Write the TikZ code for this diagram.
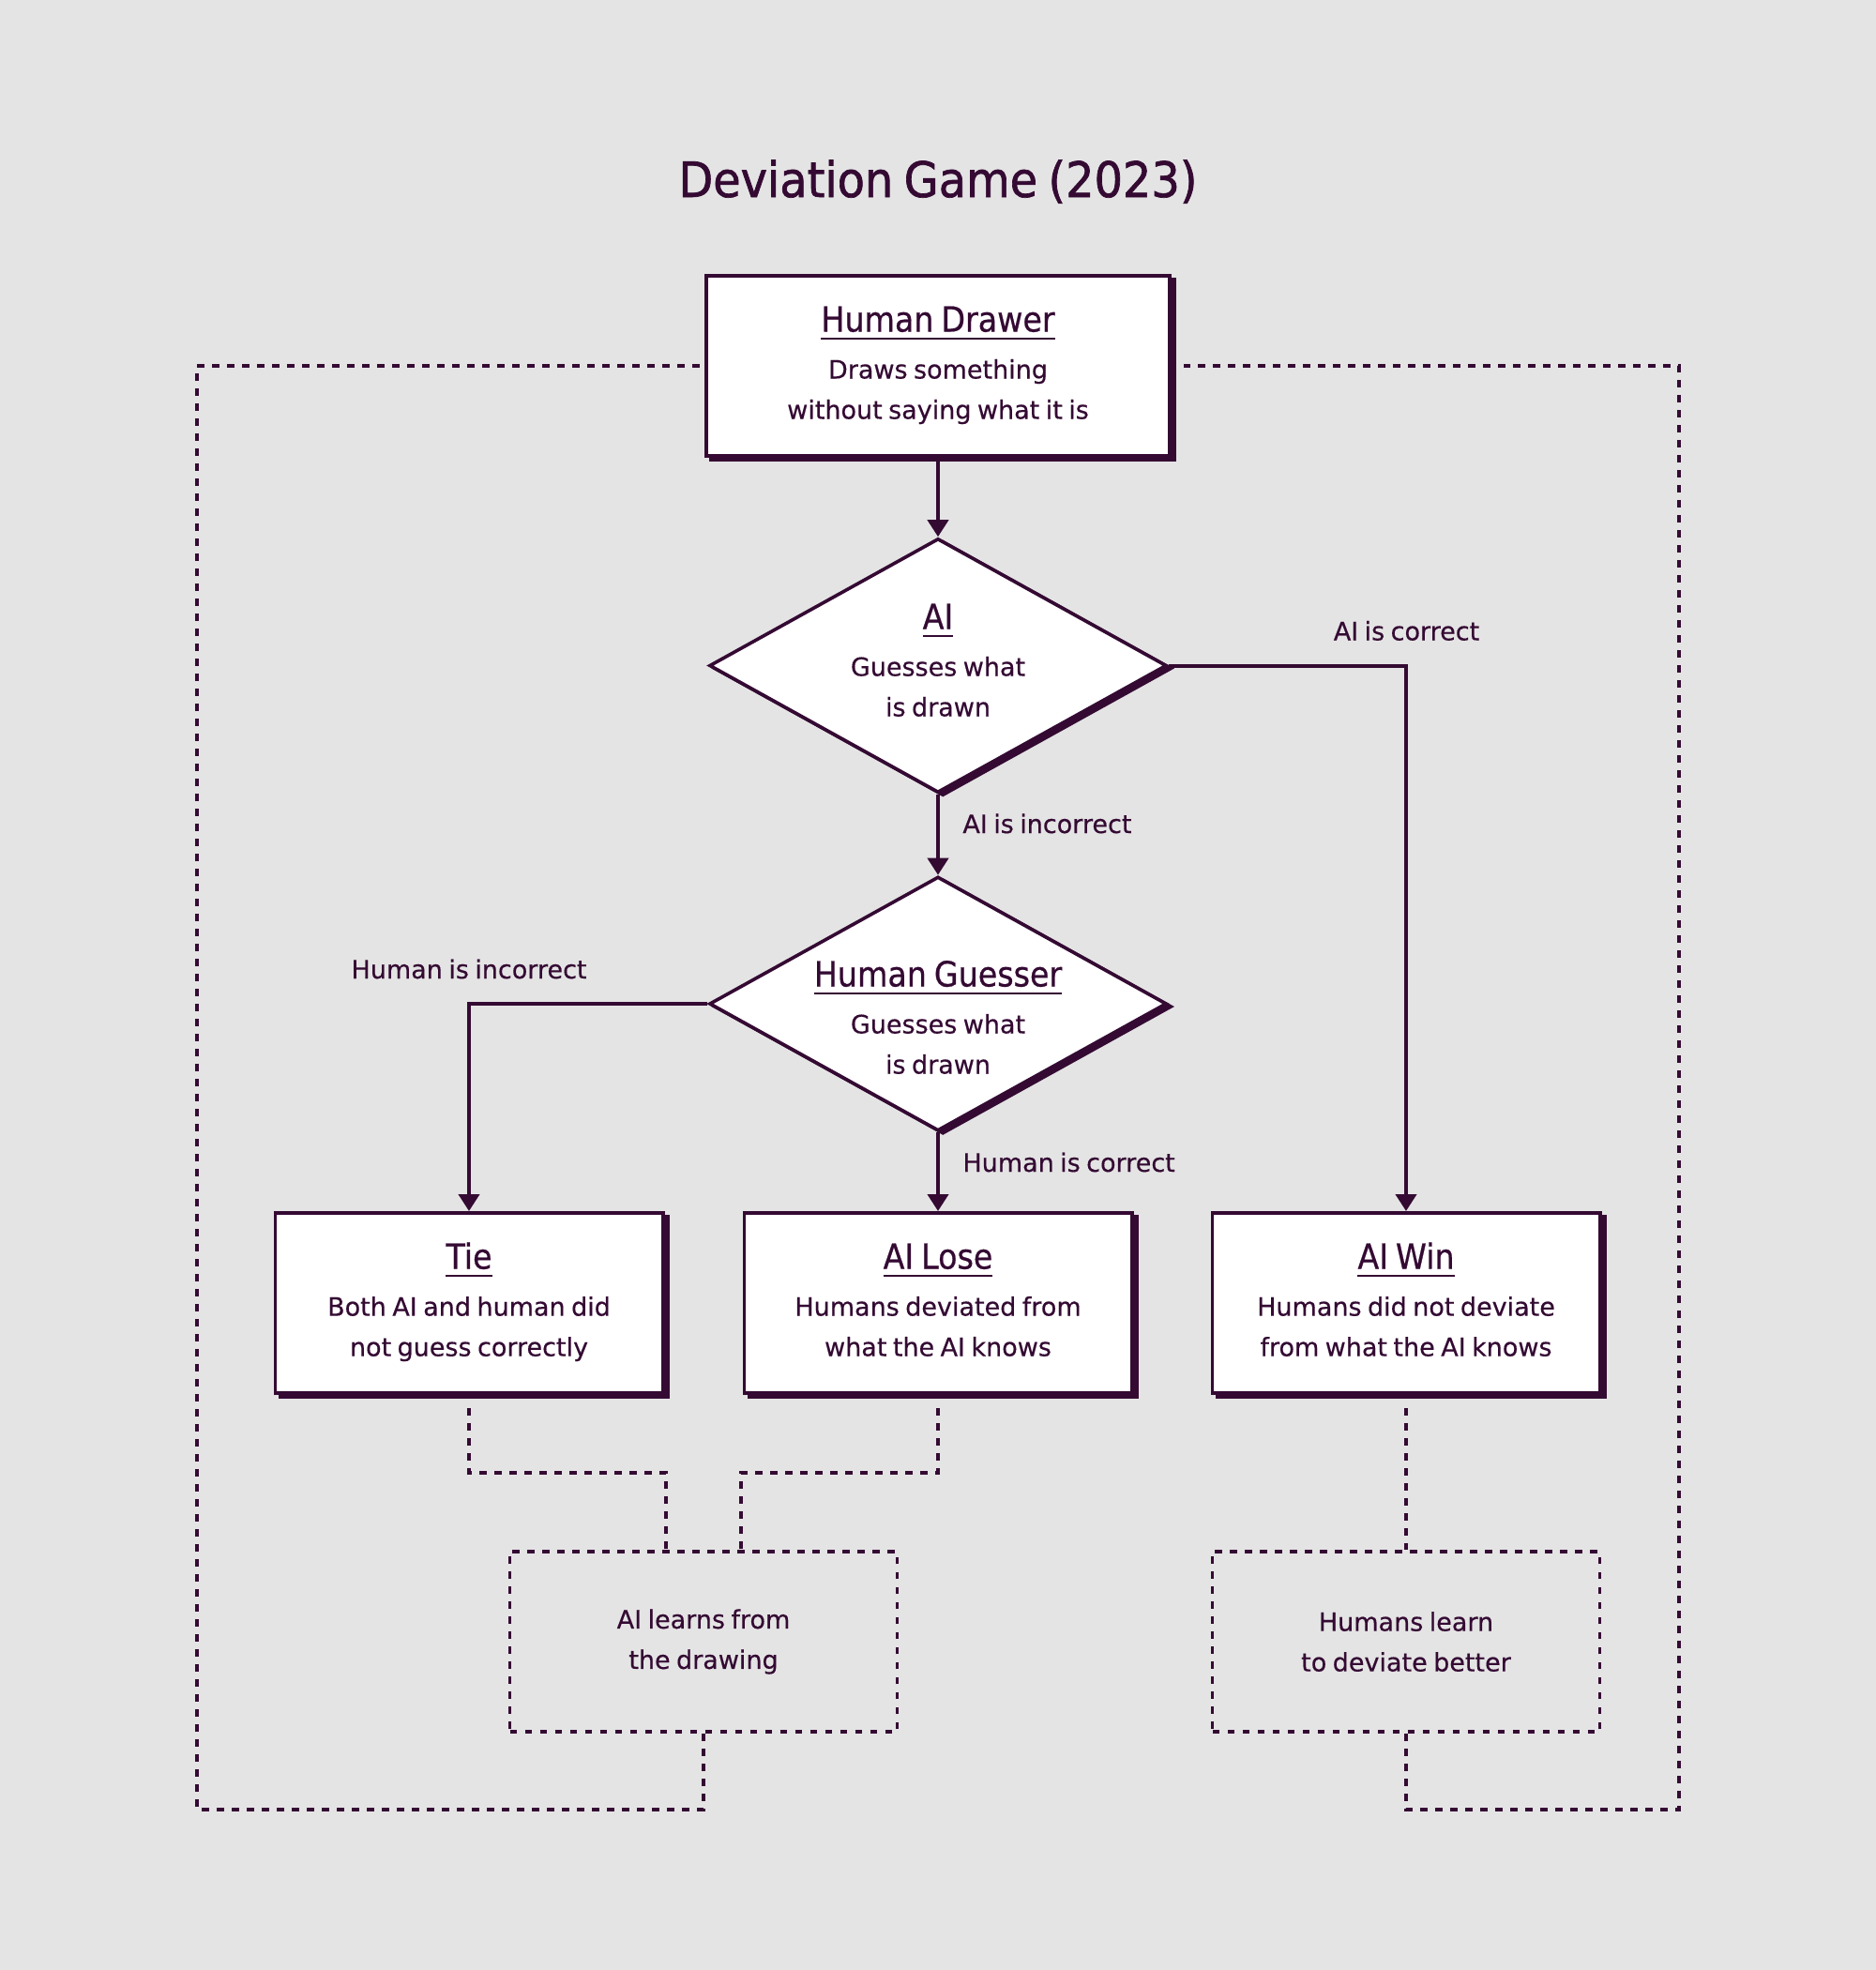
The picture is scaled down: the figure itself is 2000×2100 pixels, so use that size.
\documentclass[tikz,border=0pt]{standalone}
\usepackage{fontspec}
\setmainfont{DejaVu Sans}[WordSpace=0.75, FakeBold=0.4]
\newfontfamily\headfont{DejaVu Sans}[FakeStretch=0.9, WordSpace=0.75, FakeBold=0.6]
\newfontfamily\titlefont{DejaVu Sans}[FakeStretch=0.92, WordSpace=0.75, FakeBold=1.3]
\usetikzlibrary{shapes.geometric, arrows.meta, shadows}
\definecolor{ink}{HTML}{340A33}
\definecolor{bg}{HTML}{E4E4E4}
\newcommand\hdul[1]{\setbox0\hbox{#1}\rlap{\rule[-4.3pt]{\wd0}{1.2pt}}\box0\rule{0pt}{14pt}}
\newcommand\hd[1]{{\headfont\fontsize{18.5}{22}\selectfont\hdul{#1}}}
\newcommand\lstrut{\rule[-4pt]{0pt}{4pt}}
\tikzset{
  bodyfont/.style={font=\fontsize{13.5}{21.5}\selectfont},
  box/.style={draw=ink, line width=1.8pt, fill=white, text=ink, align=center,
    inner sep=0pt, minimum width=206.7pt, minimum height=96.2pt, bodyfont,
    general shadow={fill=ink, draw=ink, shadow xshift=2.5pt, shadow yshift=-2.2pt}},
  diam/.style={diamond, draw=ink, line width=1.8pt, fill=white, inner sep=0pt,
    minimum width=243.8pt, minimum height=135.5pt,
    general shadow={fill=ink, draw=ink, shadow xshift=2.6pt, shadow yshift=-1.5pt}},
  dtext/.style={text=ink, align=center, inner sep=0pt, bodyfont},
  conn/.style={draw=ink, line width=2pt, -{Triangle[width=11pt,length=9pt]}},
  dsh/.style={draw=ink, line width=1.9pt, dash pattern=on 3.8pt off 4.2pt},
  learnbox/.style={dsh, text=ink, align=center, inner sep=0pt,
    minimum width=206.5pt, minimum height=96.2pt, bodyfont},
  lbl/.style={text=ink, inner sep=0pt, bodyfont},
  ttl/.style={text=ink, inner sep=0pt, font=\titlefont\fontsize{26}{30}\selectfont}
}
\begin{document}
\begin{tikzpicture}[x=0.5pt, y=-0.5pt]
\fill[bg] (0,0) rectangle (2000,2100);
\useasboundingbox (0,0) rectangle (2000,2100);

\node[ttl, anchor=base] (title) at (1000,210) {Deviation Game (2023)};

\node[box, minimum width=247.2pt] (hd) at (1000,390)
  {\hd{Human Drawer}\\[3.5pt] Draws something\\ without saying what it is\lstrut};

\node[diam] (ai) at (1000,709.5) {};
\node[dtext] (aitxt) at (1000,707)
  {\hd{AI}\\[3.5pt] Guesses what\\ is drawn\lstrut};

\node[diam] (hg) at (1000,1070) {};
\node[dtext] (hgtxt) at (1000,1088)
  {\hd{Human Guesser}\\[3.5pt] Guesses what\\ is drawn\lstrut};

\node[box] (tie) at (500,1389)
  {\hd{Tie}\\[3.5pt] Both AI and human did\\ not guess correctly\lstrut};
\node[box] (lose) at (1000,1389)
  {\hd{AI Lose}\\[3.5pt] Humans deviated from\\ what the AI knows\lstrut};
\node[box] (win) at (1499,1389)
  {\hd{AI Win}\\[3.5pt] Humans did not deviate\\ from what the AI knows\lstrut};

\node[learnbox] (ail) at (750,1750) {AI learns from\\ the drawing};
\node[learnbox] (hl) at (1499,1750) {Humans learn\\ to deviate better};

\node[lbl, anchor=base] (lcorrect) at (1499.5,682.5) {AI is correct};
\node[lbl, anchor=base west] (lincorrect) at (1026,888) {AI is incorrect};
\node[lbl, anchor=base] (hincorrect) at (500,1043) {Human is incorrect};
\node[lbl, anchor=base west] (hcorrect) at (1026,1249) {Human is correct};

% solid connectors
\draw[conn] (hd.south) -- (ai.north);
\draw[conn] (ai.south) -- (hg.north);
\draw[conn] (ai.east) -| (win.north);
\draw[conn] (hg.west) -| (tie.north);
\draw[conn] (hg.south) -- (lose.north);

% dashed connectors
\coordinate (jl) at (710,1570);
\coordinate (jr) at (790,1570);
\coordinate (bl) at (210,1929);
\coordinate (tl) at (210,390);
\coordinate (br) at (1790,1929);
\coordinate (tr) at (1790,390);
\draw[dsh] ([yshift=-7pt]tie.south) |- (jl) -- (jl |- ail.north);
\draw[dsh] ([yshift=-7pt]lose.south) |- (jr) -- (jr |- ail.north);
\draw[dsh] ([yshift=-7pt]win.south) -- (hl.north);
\draw[dsh] (ail.south) |- (bl) -- (tl) -- (hd.west);
\draw[dsh] (hl.south) |- (br) -- (tr) -- ([xshift=6.5pt]hd.east);
\end{tikzpicture}
\end{document}
